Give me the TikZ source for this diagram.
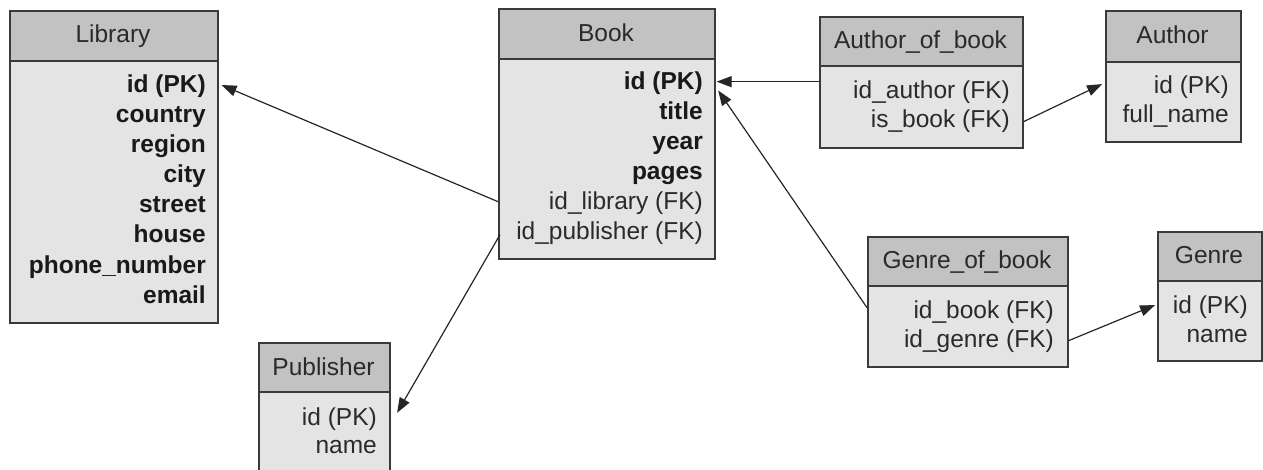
\documentclass[tikz,border=0pt]{standalone}
\usepackage{fontspec}
\setmainfont{Liberation Sans}
\usetikzlibrary{arrows.meta}
\definecolor{hdrgray}{HTML}{C2C2C2}
\definecolor{bodygray}{HTML}{E4E4E4}
\definecolor{bord}{HTML}{3A3A3A}
\definecolor{txt}{HTML}{2A2A2A}
\tikzset{
  hdr/.style={draw=bord, fill=hdrgray, line width=1.6pt, anchor=north west, inner sep=0pt},
  tbody/.style={draw=bord, fill=bodygray, line width=1.6pt, anchor=north west, inner sep=0pt},
  ttl/.style={anchor=base, inner sep=0pt, text=txt, font=\fontsize{24.5}{29}\selectfont},
  fld/.style={anchor=base east, inner sep=0pt, text=txt, font=\fontsize{24.5}{29}\selectfont},
  keyfld/.style={anchor=base east, inner sep=0pt, text=black!90, font=\fontsize{24.5}{29}\selectfont\bfseries},
  rel/.style={draw=black!85, line width=1.2pt, -{Triangle[length=15pt,width=11pt]}, shorten >=1pt}
}
\begin{document}
\begin{tikzpicture}[x=1pt,y=-1pt]
\useasboundingbox (0,0) rectangle (1263,470);
\begin{scope}
\clip (0,0) rectangle (1263,470);
% Library
\node[tbody, minimum width=208pt, minimum height=262pt] (lib) at (9,60) {};
\node[hdr, minimum width=208pt, minimum height=50pt] (libH) at (9,10) {};
\node[ttl] (libT) at (113,43) {Library};
\node[keyfld] (lId) at (206,93) {id (PK)};
\node[keyfld] (lCountry) at (206,123) {country};
\node[keyfld] (lRegion) at (206,153) {region};
\node[keyfld] (lCity) at (206,183) {city};
\node[keyfld] (lStreet) at (206,213) {street};
\node[keyfld] (lHouse) at (206,243) {house};
\node[keyfld] (lPhone) at (206,273) {phone\_number};
\node[keyfld] (lEmail) at (206,303) {email};
% Book
\node[tbody, minimum width=216pt, minimum height=200pt] (book) at (498,58) {};
\node[hdr, minimum width=216pt, minimum height=50pt] (bookH) at (498,8) {};
\node[ttl] (bookT) at (606,42) {Book};
\node[keyfld] (bId) at (703,90) {id (PK)};
\node[keyfld] (bTitle) at (703,120) {title};
\node[keyfld] (bYear) at (703,150) {year};
\node[keyfld] (bPages) at (703,180) {pages};
\node[fld] (bLib) at (703,210) {id\_library (FK)};
\node[fld] (bPub) at (703,240) {id\_publisher (FK)};
% Author_of_book
\node[tbody, minimum width=203pt, minimum height=82pt] (aob) at (819,65) {};
\node[hdr, minimum width=203pt, minimum height=49pt] (aobH) at (819,16) {};
\node[ttl] (aobT) at (920.5,49) {Author\_of\_book};
\node[fld] (aAuth) at (1010,99) {id\_author (FK)};
\node[fld] (aIs) at (1010,128) {is\_book (FK)};
% Author
\node[tbody, minimum width=135pt, minimum height=80pt] (auth) at (1105,61) {};
\node[hdr, minimum width=135pt, minimum height=51pt] (authH) at (1105,10) {};
\node[ttl] (authT) at (1172.5,44) {Author};
\node[fld] (auId) at (1229,94) {id (PK)};
\node[fld] (auName) at (1229,123) {full\_name};
% Genre_of_book
\node[tbody, minimum width=200pt, minimum height=81pt] (gob) at (867,285) {};
\node[hdr, minimum width=200pt, minimum height=49pt] (gobH) at (867,236) {};
\node[ttl] (gobT) at (967,269) {Genre\_of\_book};
\node[fld] (gBook) at (1054,318) {id\_book (FK)};
\node[fld] (gGenre) at (1054,347) {id\_genre (FK)};
% Genre
\node[tbody, minimum width=104pt, minimum height=80pt] (genre) at (1157,280) {};
\node[hdr, minimum width=104pt, minimum height=49pt] (genreH) at (1157,231) {};
\node[ttl] (genreT) at (1209,264) {Genre};
\node[fld] (geId) at (1248,313) {id (PK)};
\node[fld] (geName) at (1248,342) {name};
% Publisher
\node[tbody, minimum width=131pt, minimum height=100pt] (pub) at (258,391) {};
\node[hdr, minimum width=131pt, minimum height=49pt] (pubH) at (258,342) {};
\node[ttl] (pubT) at (323.5,375) {Publisher};
\node[fld] (pId) at (377,425) {id (PK)};
\node[fld] (pName) at (377,453) {name};
\end{scope}
% Relations
\draw[rel] ([yshift=2pt]book.west |- bLib) -- ([xshift=2pt,yshift=2pt]lib.east |- lId);
\draw[rel] ([xshift=2pt,yshift=-1pt]book.west |- bPub) -- ([xshift=6pt,yshift=5pt]pub.east |- pId);
\draw[rel] ([yshift=2pt]aob.west |- bId) -- ([yshift=2pt]book.east |- bId);
\draw[rel] ([yshift=4pt]gob.west |- gBook) -- ([xshift=2pt,yshift=-6pt]book.east |- bId);
\draw[rel] (aob.east |- aIs) -- ([xshift=-2pt,yshift=4pt]auth.west |- auId);
\draw[rel] (gob.east |- gGenre) -- ([xshift=-1pt,yshift=2pt]genre.west |- geId);
\end{tikzpicture}
\end{document}
